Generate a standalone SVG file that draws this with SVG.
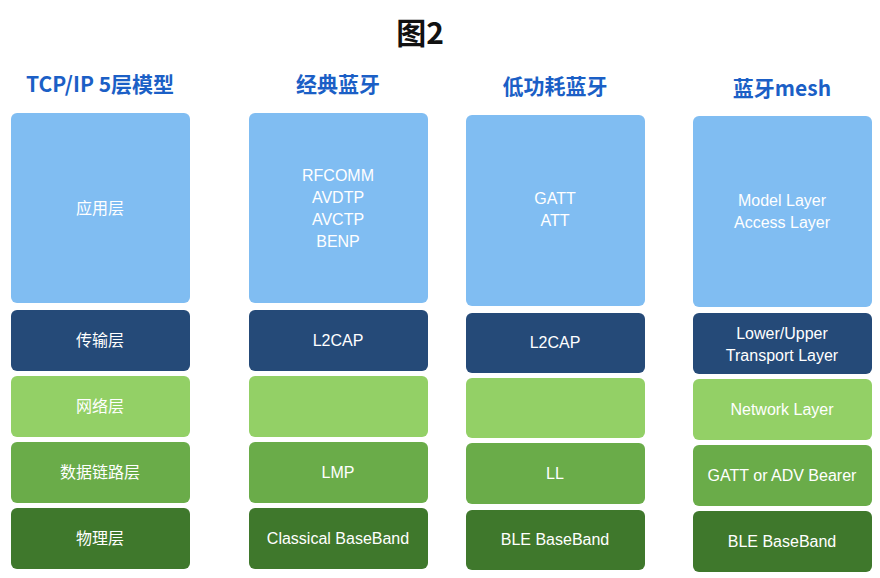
<svg xmlns="http://www.w3.org/2000/svg" width="880" height="578" viewBox="0 0 880 578">
<style>
.t{font-family:"Noto Sans CJK SC","Liberation Sans",sans-serif;font-weight:bold;fill:#1b5fc6;font-size:21px;text-anchor:middle}
.l{font-family:"Liberation Sans","Noto Sans CJK SC",sans-serif;fill:#fff;font-size:16px;text-anchor:middle}
.a{fill:#80bdf2}.b{fill:#254a78}.c{fill:#93d066}.d{fill:#6aac49}.e{fill:#3f782c}
</style>
<rect width="880" height="578" fill="#fff"/>
<text x="420" y="44" font-family="Noto Sans CJK SC,Liberation Sans,sans-serif" font-weight="bold" font-size="30" text-anchor="middle" fill="#111">图2</text>
<g id="col1">
<text class="t" x="100" y="92">TCP/IP 5层模型</text>
<rect class="a" x="11" y="113" width="179" height="190" rx="6"/><text class="l" x="100" y="214">应用层</text>
<rect class="b" x="11" y="310" width="179" height="61" rx="6"/><text class="l" x="100" y="346">传输层</text>
<rect class="c" x="11" y="376" width="179" height="61" rx="6"/><text class="l" x="100" y="412">网络层</text>
<rect class="d" x="11" y="442" width="179" height="61" rx="6"/><text class="l" x="100" y="478">数据链路层</text>
<rect class="e" x="11" y="508" width="179" height="61" rx="6"/><text class="l" x="100" y="544">物理层</text>
</g>
<g id="col2">
<text class="t" x="338" y="92">经典蓝牙</text>
<rect class="a" x="249" y="113" width="179" height="190" rx="6"/>
<text class="l" x="338" y="181">RFCOMM</text><text class="l" x="338" y="203">AVDTP</text><text class="l" x="338" y="225">AVCTP</text><text class="l" x="338" y="247">BENP</text>
<rect class="b" x="249" y="310" width="179" height="61" rx="6"/><text class="l" x="338" y="346">L2CAP</text>
<rect class="c" x="249" y="376" width="179" height="61" rx="6"/>
<rect class="d" x="249" y="442" width="179" height="61" rx="6"/><text class="l" x="338" y="478">LMP</text>
<rect class="e" x="249" y="508" width="179" height="61" rx="6"/><text class="l" x="338" y="544">Classical BaseBand</text>
</g>
<g id="col3">
<text class="t" x="555" y="94">低功耗蓝牙</text>
<rect class="a" x="466" y="115" width="179" height="191" rx="6"/>
<text class="l" x="555" y="204">GATT</text><text class="l" x="555" y="226">ATT</text>
<rect class="b" x="466" y="313" width="179" height="60" rx="6"/><text class="l" x="555" y="348">L2CAP</text>
<rect class="c" x="466" y="378" width="179" height="60" rx="6"/>
<rect class="d" x="466" y="443" width="179" height="61" rx="6"/><text class="l" x="555" y="479">LL</text>
<rect class="e" x="466" y="510" width="179" height="60" rx="6"/><text class="l" x="555" y="545">BLE BaseBand</text>
</g>
<g id="col4">
<text class="t" x="782" y="96">蓝牙mesh</text>
<rect class="a" x="693" y="116" width="179" height="191" rx="6"/>
<text class="l" x="782" y="206">Model Layer</text><text class="l" x="782" y="228">Access Layer</text>
<rect class="b" x="693" y="313" width="179" height="61" rx="6"/>
<text class="l" x="782" y="339">Lower/Upper</text><text class="l" x="782" y="361">Transport Layer</text>
<rect class="c" x="693" y="379" width="179" height="61" rx="6"/><text class="l" x="782" y="415">Network Layer</text>
<rect class="d" x="693" y="445" width="179" height="61" rx="6"/><text class="l" x="782" y="481">GATT or ADV Bearer</text>
<rect class="e" x="693" y="511" width="179" height="61" rx="6"/><text class="l" x="782" y="547">BLE BaseBand</text>
</g>
<g id="connectors"/>
</svg>
